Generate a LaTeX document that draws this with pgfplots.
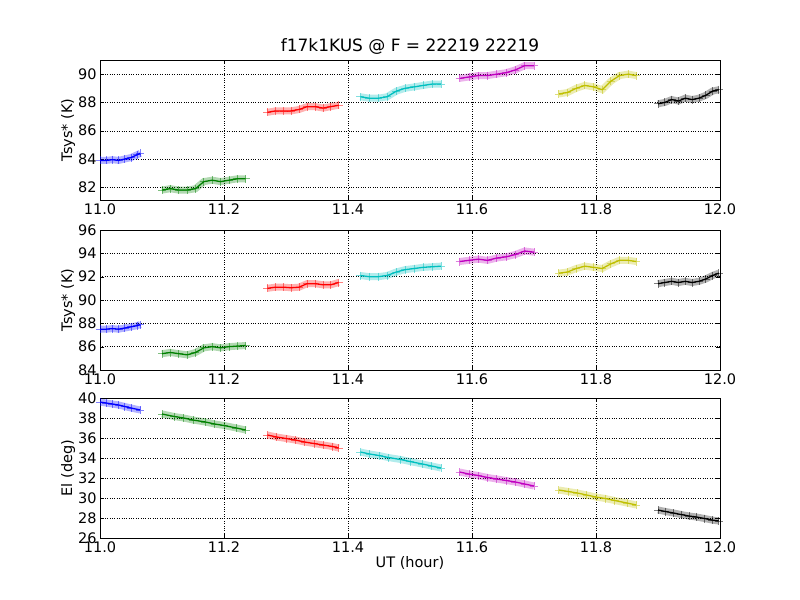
\documentclass[border=0pt]{standalone}
\usepackage{pgfplots}
\pgfplotsset{compat=1.18}
\usepackage{fontspec}
\setmainfont{DejaVu Sans}
\definecolor{mb}{rgb}{0,0,1}
\definecolor{mg}{rgb}{0,0.5,0}
\definecolor{mr}{rgb}{1,0,0}
\definecolor{mc}{rgb}{0,0.75,0.75}
\definecolor{mm}{rgb}{0.75,0,0.75}
\definecolor{my}{rgb}{0.75,0.75,0}
\definecolor{mk}{rgb}{0,0,0}
\newcommand{\seg}[2]{%
  \addplot[#1,line width=7bp,opacity=0.3,no marks] coordinates {#2};
  \addplot[#1,line width=1.3pt,mark=+,mark size=4bp,mark options={opacity=0.5,line width=0.8pt}] coordinates {#2};}
\pgfplotsset{
  panel/.style={width=620bp,height=140bp,scale only axis,xmin=11,xmax=12,
    xtick={11,11.2,11.4,11.6,11.8,12},
    xticklabel style={/pgf/number format/.cd,fixed,fixed zerofill,precision=1},
    yticklabel style={/pgf/number format/.cd,fixed,precision=0},
    /pgf/number format/assume math mode=true,
    grid=major,major grid style={black,dotted},tick align=inside,
    axis line style={black,line width=0.8pt},
    tick style={black},
    font=\fontsize{14.5bp}{16bp}\selectfont,
    ylabel style={yshift=-4bp},
    xlabel style={yshift=3bp}},
}
\begin{document}
\begin{tikzpicture}
\path (0,0) rectangle (800bp,-600bp);
\begin{axis}[panel,at={(100bp,-60bp)},anchor=north west,ymin=81.1,ymax=91,ytick={82,84,86,88,90},
  ylabel={Tsys* (K)},title={f17k1KUS @ F = 22219 22219},title style={font=\fontsize{17bp}{19bp}\selectfont,yshift=-4bp}]
\seg{mb}{(11.0,83.9)(11.01,83.9)(11.02,83.95)(11.03,83.9)(11.04,84.0)(11.05,84.1)(11.06,84.3)(11.065,84.4)}
\seg{mg}{(11.10,81.8)(11.1135,81.9)(11.127,81.8)(11.1405,81.8)(11.154,81.9)(11.1675,82.4)(11.181,82.5)(11.1945,82.4)(11.208,82.5)(11.2215,82.6)(11.235,82.6)}
\seg{mr}{(11.27,87.3)(11.283,87.4)(11.296,87.4)(11.308,87.4)(11.321,87.5)(11.334,87.7)(11.347,87.7)(11.36,87.6)(11.372,87.7)(11.385,87.8)}
\seg{mc}{(11.42,88.4)(11.434,88.3)(11.449,88.3)(11.463,88.4)(11.478,88.8)(11.492,89.0)(11.507,89.1)(11.521,89.2)(11.536,89.3)(11.55,89.3)}
\seg{mm}{(11.58,89.7)(11.595,89.8)(11.61,89.9)(11.625,89.9)(11.64,90.0)(11.655,90.1)(11.67,90.3)(11.685,90.6)(11.70,90.6)}
\seg{my}{(11.74,88.6)(11.754,88.7)(11.768,89.0)(11.782,89.2)(11.796,89.1)(11.81,88.9)(11.824,89.5)(11.838,89.9)(11.852,90.0)(11.865,89.9)}
\seg{mk}{(11.90,87.9)(11.911,88.0)(11.922,88.2)(11.933,88.1)(11.944,88.3)(11.955,88.2)(11.966,88.3)(11.977,88.5)(11.988,88.8)(11.998,88.9)}
\end{axis}
\begin{axis}[panel,at={(100bp,-230bp)},anchor=north west,ymin=84,ymax=96,ytick={84,86,...,96},ylabel={Tsys* (K)}]
\seg{mb}{(11.0,87.5)(11.01,87.5)(11.02,87.55)(11.03,87.5)(11.04,87.6)(11.05,87.7)(11.06,87.8)(11.065,87.9)}
\seg{mg}{(11.10,85.4)(11.1135,85.5)(11.127,85.4)(11.1405,85.3)(11.154,85.5)(11.1675,85.9)(11.181,86.0)(11.1945,85.9)(11.208,86.0)(11.2215,86.05)(11.235,86.1)}
\seg{mr}{(11.27,91.0)(11.283,91.1)(11.296,91.1)(11.308,91.05)(11.321,91.1)(11.334,91.4)(11.347,91.4)(11.36,91.3)(11.372,91.3)(11.385,91.5)}
\seg{mc}{(11.42,92.1)(11.434,92.0)(11.449,92.0)(11.463,92.1)(11.478,92.4)(11.492,92.6)(11.507,92.7)(11.521,92.8)(11.536,92.85)(11.55,92.9)}
\seg{mm}{(11.58,93.3)(11.595,93.4)(11.61,93.5)(11.625,93.4)(11.64,93.6)(11.655,93.7)(11.67,93.9)(11.685,94.2)(11.70,94.1)}
\seg{my}{(11.74,92.3)(11.754,92.4)(11.768,92.7)(11.782,92.9)(11.796,92.8)(11.81,92.7)(11.824,93.1)(11.838,93.4)(11.852,93.4)(11.865,93.3)}
\seg{mk}{(11.90,91.4)(11.911,91.5)(11.922,91.6)(11.933,91.5)(11.944,91.6)(11.955,91.5)(11.966,91.6)(11.977,91.8)(11.988,92.1)(11.998,92.3)}
\end{axis}
\begin{axis}[panel,at={(100bp,-398bp)},anchor=north west,ymin=26,ymax=40,ytick={26,28,...,40},ylabel={El (deg)},xlabel={UT (hour)}]
\seg{mb}{(11.0,39.6)(11.01,39.5)(11.02,39.4)(11.03,39.3)(11.04,39.15)(11.05,39.0)(11.065,38.8)}
\seg{mg}{(11.10,38.4)(11.12,38.15)(11.135,38.0)(11.15,37.8)(11.17,37.6)(11.185,37.4)(11.2,37.25)(11.22,37.0)(11.235,36.8)}
\seg{mr}{(11.27,36.3)(11.285,36.1)(11.30,35.95)(11.315,35.8)(11.33,35.6)(11.345,35.45)(11.36,35.3)(11.375,35.15)(11.385,35.0)}
\seg{mc}{(11.42,34.6)(11.435,34.4)(11.45,34.25)(11.465,34.05)(11.485,33.85)(11.5,33.65)(11.52,33.4)(11.535,33.2)(11.55,33.0)}
\seg{mm}{(11.58,32.6)(11.595,32.4)(11.61,32.25)(11.625,32.05)(11.64,31.9)(11.655,31.75)(11.67,31.6)(11.685,31.4)(11.70,31.2)}
\seg{my}{(11.74,30.8)(11.755,30.65)(11.77,30.5)(11.785,30.3)(11.80,30.1)(11.815,29.95)(11.83,29.75)(11.85,29.5)(11.865,29.3)}
\seg{mk}{(11.90,28.8)(11.912,28.65)(11.925,28.5)(11.937,28.35)(11.95,28.2)(11.962,28.1)(11.975,27.95)(11.987,27.8)(11.998,27.7)}
\end{axis}
\end{tikzpicture}
\end{document}
